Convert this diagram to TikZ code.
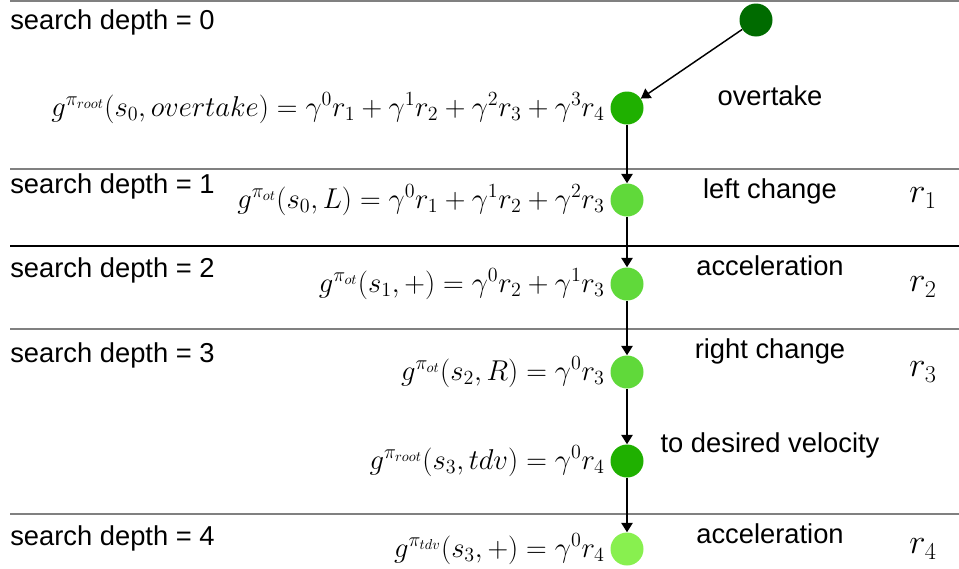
\RequirePackage{fix-cm}
\documentclass[tikz,border=0pt]{standalone}
\usepackage{fontspec}
\setmainfont{Liberation Sans}
\usetikzlibrary{arrows.meta}
\definecolor{cRoot}{RGB}{0,107,0}
\definecolor{cMid}{RGB}{31,176,0}
\definecolor{cLight}{RGB}{96,217,58}
\definecolor{cPale}{RGB}{136,240,79}
\definecolor{cLine}{RGB}{128,128,128}
\tikzset{
  state/.style={circle,inner sep=0pt,minimum size=24.75pt},
  sep/.style={draw=cLine,line width=1.1pt},
  sepdark/.style={draw=black,line width=0.9pt},
  depthlbl/.style={anchor=base west,inner sep=0pt,font=\fontsize{20.5}{24}\selectfont},
  actlbl/.style={anchor=base,inner sep=0pt,font=\fontsize{20.5}{24}\selectfont},
  formula/.style={anchor=east,inner sep=0pt,font=\fontsize{21.5}{26}\selectfont},
  rlbl/.style={anchor=center,inner sep=0pt,font=\fontsize{26}{30}\selectfont},
  conn/.style={line width=1.1pt,-{Triangle[width=8.5pt,length=7pt]}}
}
\begin{document}
\begin{tikzpicture}[x=0.75pt,y=-0.75pt]
\useasboundingbox (0,0) rectangle (959,568);
% separators
\draw[sep] (10,1) -- (959,1);
\draw[sep] (10,169) -- (959,169);
\draw[sepdark] (10,246) -- (959,246);
\draw[sep] (10,329) -- (959,329);
\draw[sep] (10,514) -- (959,514);
% depth labels
\node[depthlbl] (d0) at (10,29) {search depth = 0};
\node[depthlbl] (d1) at (10,193) {search depth = 1};
\node[depthlbl] (d2) at (10,277) {search depth = 2};
\node[depthlbl] (d3) at (10,362) {search depth = 3};
\node[depthlbl] (d4) at (10,545) {search depth = 4};
% states
\node[state,fill=cRoot] (root) at (756,20) {};
\node[state,fill=cMid] (n0) at (627,108) {};
\node[state,fill=cLight] (n1) at (627,200) {};
\node[state,fill=cLight] (n2) at (627,284) {};
\node[state,fill=cLight] (n3) at (627,372) {};
\node[state,fill=cMid] (n4) at (627,461) {};
\node[state,fill=cPale] (n5) at (627,549) {};
% connectors
\draw[conn] (root) -- (n0);
\draw[conn] (n0) -- (n1);
\draw[conn] (n1) -- (n2);
\draw[conn] (n2) -- (n3);
\draw[conn] (n3) -- (n4);
\draw[conn] (n4) -- (n5);
% formulas
\node[formula] (f0) at ([xshift=-4pt]n0.west) {$g^{\pi_{root}}(s_0,overtake)=\gamma^0r_1+\gamma^1r_2+\gamma^2r_3+\gamma^3r_4$};
\node[formula] (f1) at ([xshift=-4pt]n1.west) {$g^{\pi_{ot}}(s_0,L)=\gamma^0r_1+\gamma^1r_2+\gamma^2r_3$};
\node[formula] (f2) at ([xshift=-4pt]n2.west) {$g^{\pi_{ot}}(s_1,+)=\gamma^0r_2+\gamma^1r_3$};
\node[formula] (f3) at ([xshift=-4pt]n3.west) {$g^{\pi_{ot}}(s_2,R)=\gamma^0r_3$};
\node[formula] (f4) at ([xshift=-4pt]n4.west) {$g^{\pi_{root}}(s_3,tdv)=\gamma^0r_4$};
\node[formula] (f5) at ([xshift=-4pt]n5.west) {$g^{\pi_{tdv}}(s_3,+)=\gamma^0r_4$};
% action labels
\node[actlbl] (a0) at (770,105) {overtake};
\node[actlbl] (a1) at (770,198) {left change};
\node[actlbl] (a2) at (770,275) {acceleration};
\node[actlbl] (a3) at (770,358) {right change};
\node[actlbl] (a4) at (770,452) {to desired velocity};
\node[actlbl] (a5) at (770,543) {acceleration};
% rewards
\node[rlbl] (r1) at (923,198) {$r_1$};
\node[rlbl] (r2) at (923,287) {$r_2$};
\node[rlbl] (r3) at (923,372) {$r_3$};
\node[rlbl] (r4) at (923,549) {$r_4$};
\end{tikzpicture}
\end{document}
